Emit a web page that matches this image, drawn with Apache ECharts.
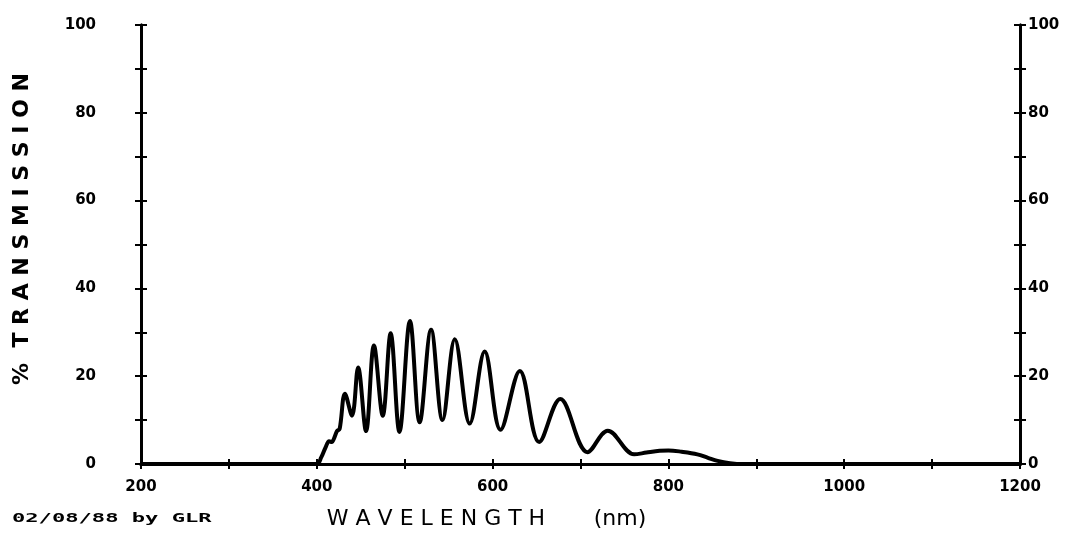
<!DOCTYPE html>
<html>
<head>
<meta charset="utf-8">
<script src="https://cdn.jsdelivr.net/npm/echarts@6/dist/echarts.min.js"></script>
<style>
html,body{margin:0;padding:0;background:#fff;}
#chart{width:1073px;height:554px;}
</style>
</head>
<body>
<div id="chart"></div>
<script>
// Wavelength (nm) and % transmission (fringe peaks and troughs)
var wavelength = [200, 300, 400, 405, 410, 414, 417, 420, 423, 426, 432, 440, 447, 456, 465, 475, 484, 494, 506, 517, 530, 543, 557, 574, 591, 609, 631, 653, 677, 708, 731, 761, 775, 790, 800, 815, 833, 845, 856, 870, 885, 1000, 1200];
var transmission = [0, 0, 0, 1.5, 3.8, 5.2, 5.0, 6.0, 7.5, 8.0, 16, 11, 22, 7.5, 27, 11, 29.8, 7.3, 32.6, 9.5, 30.6, 10, 28.4, 9.2, 25.6, 7.8, 21.2, 5, 14.8, 2.7, 7.6, 2.2, 2.6, 3.0, 3.1, 2.8, 2.2, 1.4, 0.7, 0.2, 0, 0, 0];
var xTickLabels = [200, 400, 600, 800, 1000, 1200];
var yTickLabels = [0, 20, 40, 60, 80, 100];

var seriesData = wavelength.map(function (w, i) { return [w, transmission[i]]; });

var chart = echarts.init(document.getElementById('chart'), null, {renderer: 'canvas'});
var labelFont = {color: '#000', fontFamily: 'DejaVu Sans', fontWeight: 'bold', fontSize: 15};
function xFmt(v) { return xTickLabels.indexOf(v) >= 0 ? String(v) : ''; }
function yFmt(v) { return yTickLabels.indexOf(v) >= 0 ? String(v) : ''; }
var axisLine = {show: true, onZero: false, lineStyle: {color: '#000', width: 3}};
var grid = {left: 141, right: 53, top: 25, bottom: 90, containLabel: false};

function yAx(pos, inside, showLabel) {
  return {
    type: 'value', min: 0, max: 100, interval: 10, position: pos,
    axisLine: axisLine,
    axisTick: {show: true, inside: inside, length: 6, lineStyle: {color: '#000', width: 2}},
    axisLabel: showLabel ? Object.assign({formatter: yFmt, margin: pos === 'left' ? 45 : 8}, labelFont) : {show: false},
    splitLine: {show: false}
  };
}
function xAx(inside, showLabel) {
  return {
    type: 'value', min: 200, max: 1200, interval: 100, position: 'bottom',
    axisLine: axisLine,
    axisTick: {show: true, inside: inside, length: 5, lineStyle: {color: '#000', width: 2}},
    axisLabel: showLabel ? Object.assign({formatter: xFmt, margin: 16, showMinLabel: true, showMaxLabel: true}, labelFont) : {show: false},
    splitLine: {show: false}
  };
}

var option = {
  backgroundColor: '#fff',
  animation: false,
  grid: grid,
  xAxis: [xAx(false, true), xAx(true, false)],
  yAxis: [yAx('left', false, true), yAx('right', false, true), yAx('left', true, false), yAx('right', true, false)],
  series: [{
    type: 'line',
    data: seriesData,
    xAxisIndex: 0, yAxisIndex: 0,
    showSymbol: false,
    smooth: 0.36,
    lineStyle: {color: '#000', width: 4},
    z: 3
  }],
  graphic: [
    {
      type: 'text', x: 22, y: 229, rotation: Math.PI / 2,
      style: {text: '%  T R A N S M I S S I O N', fill: '#000', font: 'bold 22px "DejaVu Sans"', textAlign: 'center', textVerticalAlign: 'middle'}
    },
    {
      type: 'text', x: 436, y: 519,
      style: {text: 'W A V E L E N G T H', fill: '#000', font: '22px "DejaVu Sans"', textAlign: 'center', textVerticalAlign: 'middle'}
    },
    {
      type: 'text', x: 620, y: 519,
      style: {text: '(nm)', fill: '#000', font: '22px "DejaVu Sans"', textAlign: 'center', textVerticalAlign: 'middle'}
    },
    {
      type: 'text', x: 12, y: 519, scaleX: 1.7,
      style: {text: '02/08/88 by GLR', fill: '#000', font: 'bold 13px "DejaVu Sans Mono"', textAlign: 'left', textVerticalAlign: 'middle'}
    }
  ]
};
chart.setOption(option);
</script>
</body>
</html>
